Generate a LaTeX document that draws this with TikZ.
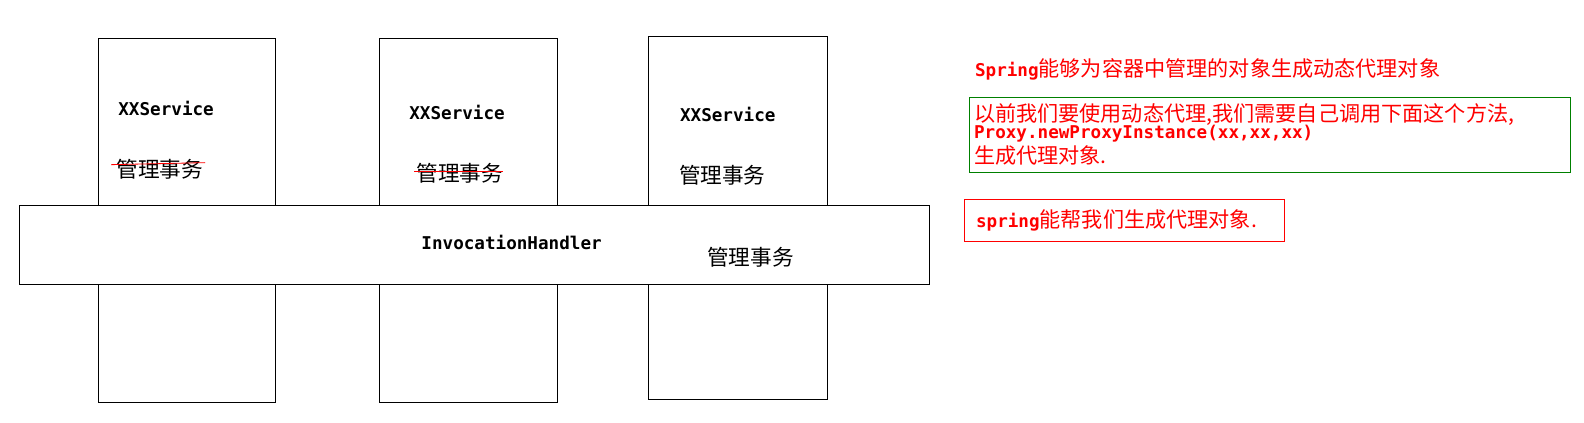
\documentclass[tikz,border=0pt]{standalone}
\usepackage{fontspec}
\setmonofont{DejaVu Sans Mono}
\newfontfamily\cjk{Noto Sans CJK SC}
\begin{document}
\begin{tikzpicture}[x=1bp,y=-1bp,
  lbl/.style={anchor=west,inner sep=0pt,font=\ttfamily\bfseries\fontsize{17.5}{20}\selectfont},
  zh/.style={anchor=west,inner sep=0pt,font=\cjk\fontsize{21.5}{24}\selectfont},
  rd/.style={anchor=west,inner sep=0pt,text=red,font=\cjk\fontsize{21}{24}\selectfont}]
\useasboundingbox (0,0) rectangle (1568,418);
\draw[thick] (97,38) rectangle (273,398);
\draw[thick] (376,38) rectangle (552,398);
\draw[thick] (642,36) rectangle (819,395);
\filldraw[thick,fill=white] (19,203) rectangle (920,282);
\node[lbl] (s1) at (117,107) {XXService};
\node[lbl] (s2) at (405,111) {XXService};
\node[lbl] (s3) at (673,113) {XXService};
\node[lbl] (ih) at (417,240) {InvocationHandler};
\node[zh] (t1) at (115,168) {管理事务};
\node[zh] (t2) at (412,172) {管理事务};
\node[zh] (t3) at (672,173) {管理事务};
\node[zh] (t4) at (700,255) {管理事务};
\draw[red,thick] (110,163) -- (203,161);
\draw[red,thick] (410,170) -- (498,170);
\node[rd] (top) at (965,69) {{\ttfamily\bfseries\fontsize{17.5}{20}\selectfont Spring}能够为容器中管理的对象生成动态代理对象};
\draw[green!50!black,thick] (960,96) rectangle (1555,171);
\node[rd] (g1) at (964,113) {以前我们要使用动态代理,我们需要自己调用下面这个方法,};
\node[rd,font=\ttfamily\bfseries\fontsize{17.5}{20}\selectfont] (g2) at (964,132) {Proxy.newProxyInstance(xx,xx,xx)};
\node[rd] (g3) at (964,154) {生成代理对象.};
\draw[red,thick] (955,197) rectangle (1271,239);
\node[rd] (r1) at (966,218) {{\ttfamily\bfseries\fontsize{17.5}{20}\selectfont spring}能帮我们生成代理对象.};
\end{tikzpicture}
\end{document}
